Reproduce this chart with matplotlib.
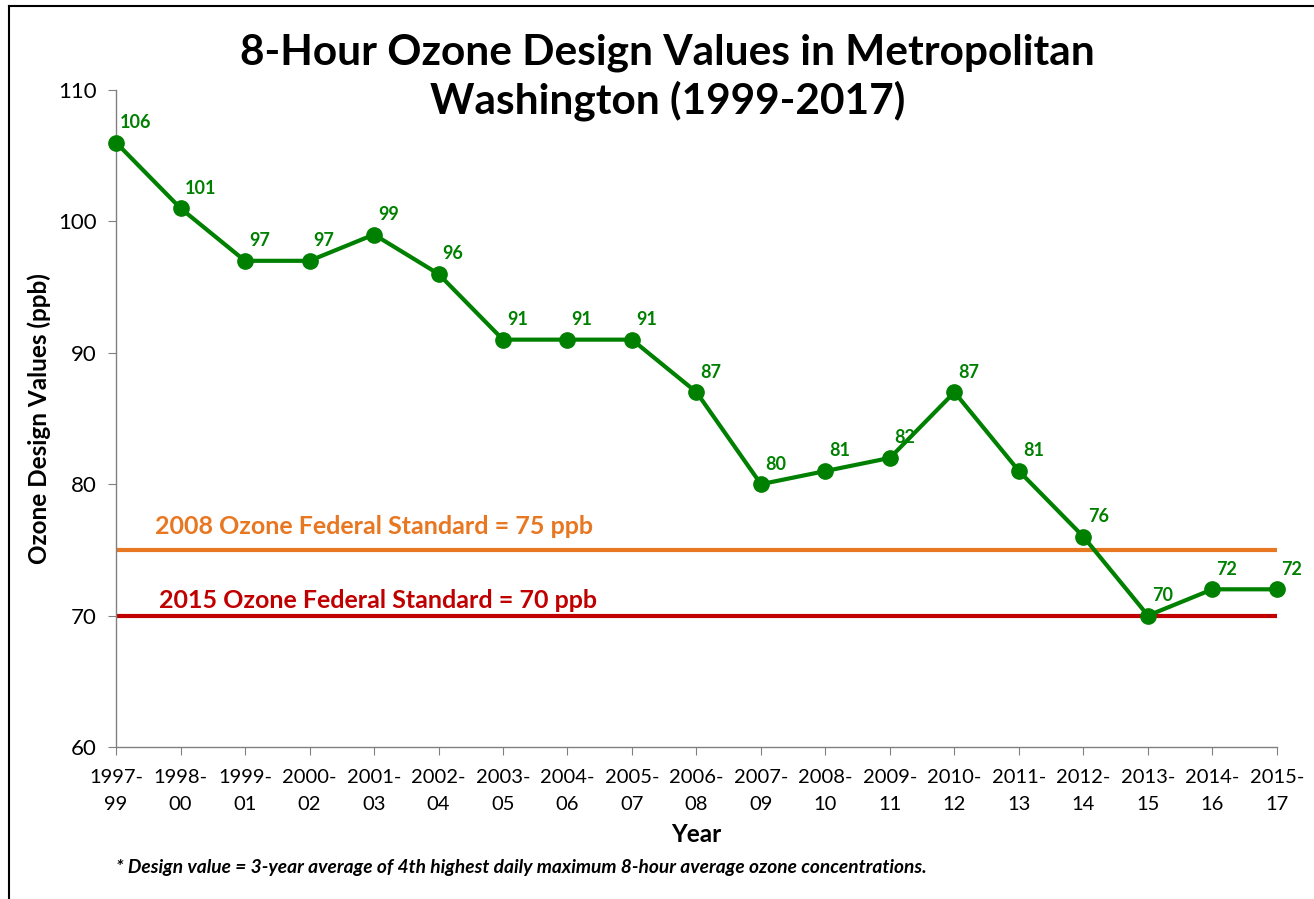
import matplotlib
matplotlib.use("Agg")
import matplotlib.pyplot as plt
from matplotlib.lines import Line2D

plt.rcParams['font.family'] = ['Lato', 'DejaVu Sans']

# Data
periods = ["1997-\n99", "1998-\n00", "1999-\n01", "2000-\n02", "2001-\n03", "2002-\n04",
           "2003-\n05", "2004-\n06", "2005-\n07", "2006-\n08", "2007-\n09", "2008-\n10",
           "2009-\n11", "2010-\n12", "2011-\n13", "2012-\n14", "2013-\n15", "2014-\n16",
           "2015-\n17"]
design_values = [106, 101, 97, 97, 99, 96, 91, 91, 91, 87, 80, 81, 82, 87, 81, 76, 70, 72, 72]
std_2008 = 75
std_2015 = 70

green = '#008000'
orange = '#E87722'
red = '#C00000'

fig = plt.figure(figsize=(13.14, 8.99), dpi=100)
ax = fig.add_axes([0.0883, 0.1691, 0.8835, 0.7308])

x = list(range(len(periods)))

# Standard lines
ax.plot([x[0], x[-1]], [std_2008, std_2008], color=orange, lw=3, solid_capstyle='butt', zorder=2)
ax.plot([x[0], x[-1]], [std_2015, std_2015], color=red, lw=3, solid_capstyle='butt', zorder=2)
ax.text(0.6, std_2008 + 1.75, "2008 Ozone Federal Standard = 75 ppb", color=orange,
        fontsize=18, fontweight='bold', va='center')
ax.text(0.67, std_2015 + 1.15, "2015 Ozone Federal Standard = 70 ppb", color=red,
        fontsize=18, fontweight='bold', va='center')

# Design values
ax.plot(x, design_values, color=green, lw=3, marker='o', markersize=11, zorder=3, clip_on=False)
for xi, v in zip(x, design_values):
    ax.annotate(str(v), (xi, v), xytext=(3, 14.5), textcoords='offset points',
                color=green, fontsize=13, fontweight='bold', ha='left', va='center',
                annotation_clip=False)

ax.set_xlim(0, len(periods) - 1)
ax.set_ylim(60, 110)
ax.set_yticks([60, 70, 80, 90, 100, 110])
ax.set_xticks(x)
ax.set_xticklabels(periods, fontsize=14.5, linespacing=1.7)
ax.tick_params(axis='y', labelsize=16, length=6, color='#808080', pad=8)
ax.tick_params(axis='x', length=6, color='#808080', pad=10)

for s in ['top', 'right']:
    ax.spines[s].set_visible(False)
for s in ['left', 'bottom']:
    ax.spines[s].set_color('#808080')
    ax.spines[s].set_linewidth(1)

ax.set_xlabel("Year", fontsize=17.5, fontweight='bold', labelpad=7)
ax.set_ylabel("Ozone Design Values (ppb)", fontsize=17.5, fontweight='bold', labelpad=5)

fig.text(0.508, 0.914, "8-Hour Ozone Design Values in Metropolitan\nWashington (1999-2017)",
         ha='center', va='center', fontsize=30.5, fontweight='bold', linespacing=1.25)

fig.text(0.088, 0.0345, "* Design value = 3-year average of 4th highest daily maximum 8-hour average ozone concentrations.",
         fontsize=13.8, fontweight='bold', style='italic', va='center')

# Frame (top and left edges visible)
fig.add_artist(Line2D([9 / 1314, 9 / 1314], [0, 1 - 6 / 899], color='black', lw=1.5,
                      transform=fig.transFigure))
fig.add_artist(Line2D([9 / 1314, 1], [1 - 6 / 899, 1 - 6 / 899], color='black', lw=1.5,
                      transform=fig.transFigure))

fig.savefig("out.png", dpi=100)
